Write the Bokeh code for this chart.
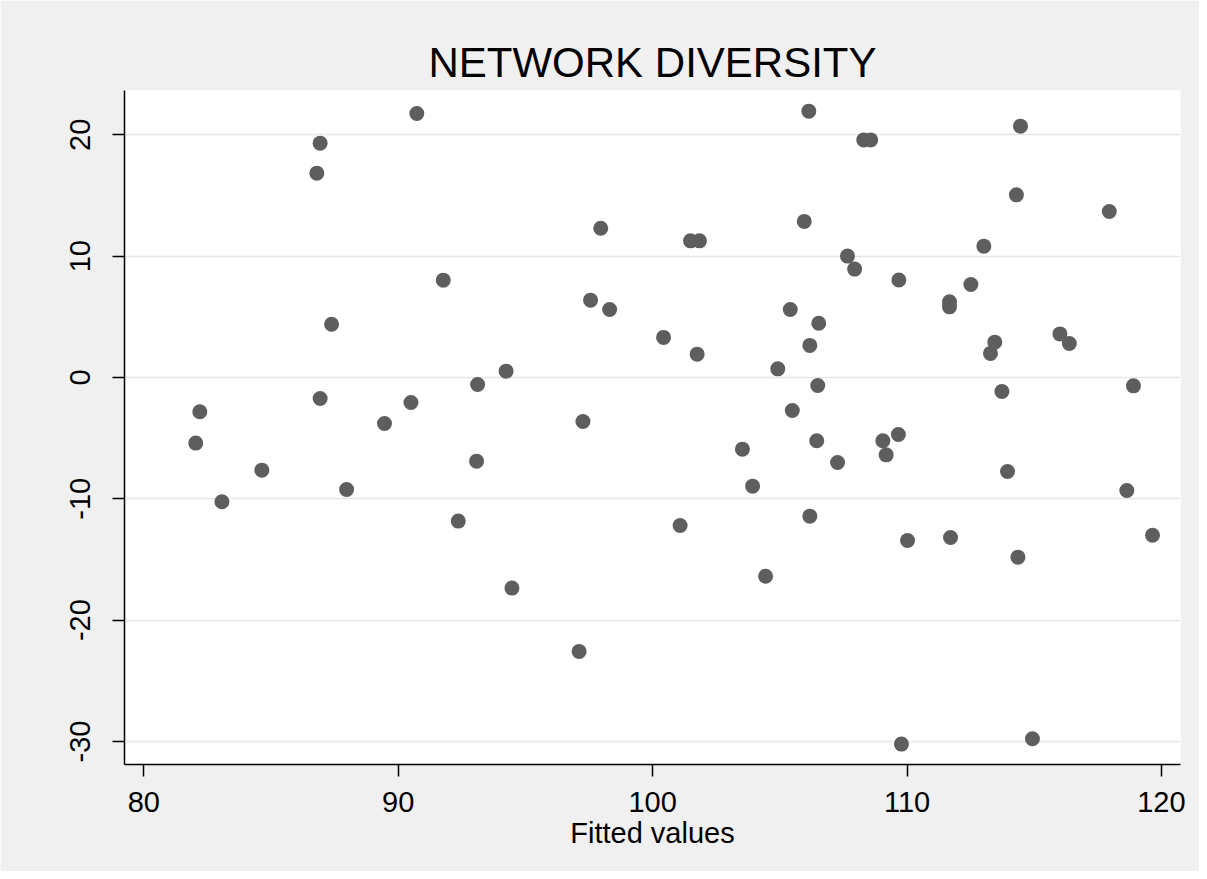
from bokeh.plotting import figure
from bokeh.models import Range1d, FixedTicker, ColumnDataSource, PrintfTickFormatter
from bokeh.embed import file_html
from bokeh.resources import INLINE

title_text = "NETWORK DIVERSITY"
x_label = "Fitted values"
x_ticks = [80, 90, 100, 110, 120]
y_ticks = [-30, -20, -10, 0, 10, 20]

fitted = [90.73, 86.93, 86.80, 91.77, 87.38, 93.12, 86.93, 82.20, 90.50, 89.46,
          82.04, 83.07, 84.64, 87.97, 93.08, 92.36, 94.47, 106.14, 108.30, 108.57,
          97.96, 105.96, 101.49, 101.84, 107.66, 107.94, 109.68, 97.56, 98.31, 105.41,
          106.53, 106.18, 100.43, 101.75, 104.92, 94.24, 106.49, 105.49, 97.26, 103.53,
          106.45, 107.27, 103.93, 109.05, 109.18, 109.66, 101.08, 106.18, 104.44, 97.11,
          109.78, 114.46, 114.30, 117.95, 113.02, 112.51, 111.67, 111.67, 116.01, 116.38,
          113.45, 113.28, 113.73, 118.90, 113.95, 118.64, 110.02, 111.71, 114.36, 119.65,
          114.93]
residuals = [21.76, 19.31, 16.84, 8.02, 4.39, -0.58, -1.73, -2.83, -2.06, -3.79,
             -5.41, -10.25, -7.64, -9.23, -6.90, -11.84, -17.36, 21.95, 19.58, 19.58,
             12.30, 12.86, 11.26, 11.26, 10.00, 8.93, 8.03, 6.37, 5.60, 5.60,
             4.47, 2.64, 3.30, 1.92, 0.71, 0.52, -0.66, -2.72, -3.63, -5.91,
             -5.22, -7.01, -8.96, -5.22, -6.38, -4.70, -12.20, -11.43, -16.38, -22.58,
             -30.22, 20.71, 15.05, 13.68, 10.82, 7.66, 6.23, 5.82, 3.59, 2.80,
             2.91, 1.98, -1.16, -0.69, -7.75, -9.32, -13.44, -13.19, -14.81, -13.00,
             -29.78]

src = ColumnDataSource(dict(x=fitted, y=residuals))

FONT = "Liberation Sans"
BG = "#f0f0f0"

p = figure(width=1199, height=871, output_backend="svg", toolbar_location=None,
           x_range=Range1d(79.24, 120.75), y_range=Range1d(-31.9, 23.65),
           min_border_left=124, min_border_right=19, min_border_top=90,
           min_border_bottom=107, title=title_text)

p.border_fill_color = BG
p.background_fill_color = "white"
p.outline_line_color = None

p.title.text_font = FONT
p.title.text_font_size = "42px"
p.title.text_font_style = "normal"
p.title.align = "center"
p.title.text_color = "black"

p.scatter("x", "y", source=src, size=15, fill_color="#5e5e5e", line_color=None)

p.xaxis.ticker = FixedTicker(ticks=x_ticks)
p.yaxis.ticker = FixedTicker(ticks=y_ticks)
p.xaxis.formatter = PrintfTickFormatter(format="%d")
p.yaxis.formatter = PrintfTickFormatter(format="%d")
p.xaxis.axis_label = x_label
for ax in (p.xaxis, p.yaxis):
    ax.axis_line_color = "black"
    ax.axis_line_width = 1.5
    ax.major_tick_line_color = "black"
    ax.major_tick_line_width = 1.5
    ax.major_tick_out = 12
    ax.major_tick_in = 0
    ax.minor_tick_line_color = None
    ax.major_label_text_font = FONT
    ax.major_label_text_font_size = "29px"
    ax.major_label_text_color = "black"
    ax.axis_label_text_font = FONT
    ax.axis_label_text_font_size = "29px"
    ax.axis_label_text_font_style = "normal"
    ax.axis_label_text_color = "black"

p.xaxis.major_label_standoff = 15
p.xaxis.axis_label_standoff = 2
p.yaxis.major_label_orientation = "vertical"
p.yaxis.major_label_standoff = 22

p.xgrid.grid_line_color = None
p.ygrid.grid_line_color = "#e6e6e6"
p.ygrid.grid_line_width = 1.5

open("out.html", "w").write(file_html(p, INLINE))
